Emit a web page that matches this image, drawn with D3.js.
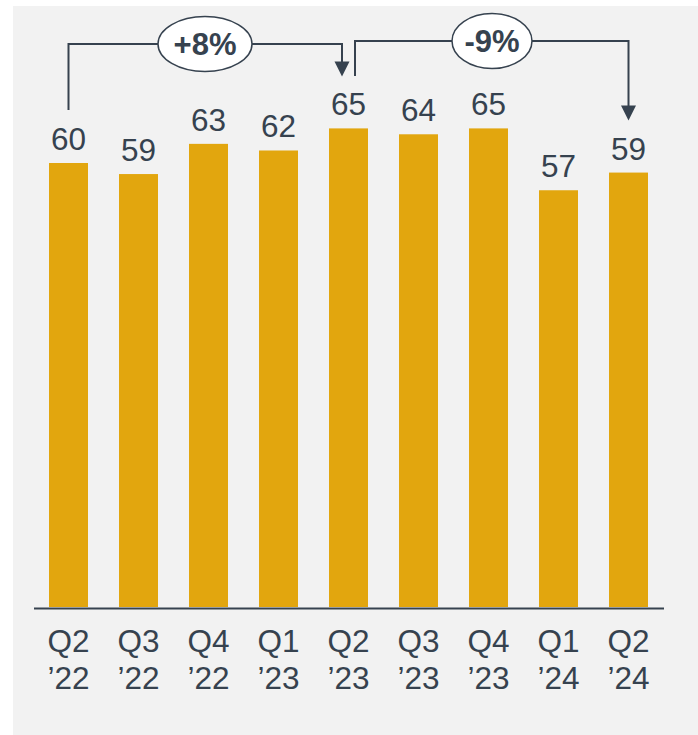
<!DOCTYPE html>
<html>
<head>
<meta charset="utf-8">
<script src="https://cdn.jsdelivr.net/npm/d3@7"></script>
<style>
  body { margin: 0; background: #fff; }
  svg { display: block; }
</style>
</head>
<body>
<div id="chart-area"></div>
<script>
// data
var quarters = ["Q2", "Q3", "Q4", "Q1", "Q2", "Q3", "Q4", "Q1", "Q2"];
var years = ["\u201922", "\u201922", "\u201922", "\u201923", "\u201923", "\u201923", "\u201923", "\u201924", "\u201924"];
var values = [60.3, 58.8, 62.9, 62.0, 65.0, 64.2, 65.0, 56.6, 59.0];
// growth brackets: from index, to index, label
var changes = [
  { from: 0, to: 4, label: "+8%" },
  { from: 4, to: 8, label: "-9%" }
];

var W = 698, H = 735;
var ink = "#36424f";
var barColor = "#e2a60e";
var font = "'Liberation Sans', Arial, sans-serif";

var svg = d3.select("#chart-area")
  .append("svg")
  .attr("width", W)
  .attr("height", H);

// panel background
svg.append("rect")
  .attr("x", 13)
  .attr("y", 6)
  .attr("width", W - 13)
  .attr("height", H - 6)
  .attr("fill", "#f2f2f2");

var idx = values.map(function(d, i) { return i; });

var x = d3.scaleBand()
  .domain(idx)
  .range([33.5, 663.5])
  .paddingInner(0.443)
  .paddingOuter(0.2215);

var baseline = 607;
var y = d3.scaleLinear()
  .domain([0, 65])
  .range([baseline, 128.4]);

// bars
svg.append("g")
  .selectAll("rect")
  .data(values)
  .enter()
  .append("rect")
  .attr("x", function(d, i) { return x(i); })
  .attr("y", function(d) { return y(d); })
  .attr("width", x.bandwidth())
  .attr("height", function(d) { return baseline - y(d); })
  .attr("fill", barColor);

// value labels
svg.append("g")
  .selectAll("text")
  .data(values)
  .enter()
  .append("text")
  .attr("x", function(d, i) { return x(i) + x.bandwidth() / 2; })
  .attr("y", function(d) { return y(d) - 13; })
  .attr("text-anchor", "middle")
  .attr("font-family", font)
  .attr("font-size", "31.5px")
  .attr("fill", ink)
  .text(function(d) { return Math.round(d); });

// x axis
var xAxis = svg.append("g")
  .attr("transform", "translate(0," + (baseline + 1) + ")")
  .call(d3.axisBottom(x).tickSize(0).tickSizeOuter(0).tickFormat(""));
xAxis.select(".domain")
  .attr("stroke", ink)
  .attr("stroke-width", 2);
xAxis.selectAll(".tick text").remove();

var xLabels = svg.append("g")
  .selectAll("text")
  .data(idx)
  .enter()
  .append("text")
  .attr("text-anchor", "middle")
  .attr("font-family", font)
  .attr("font-size", "31.5px")
  .attr("fill", ink);
xLabels.append("tspan")
  .attr("x", function(i) { return x(i) + x.bandwidth() / 2; })
  .attr("y", 652)
  .text(function(i) { return quarters[i]; });
xLabels.append("tspan")
  .attr("x", function(i) { return x(i) + x.bandwidth() / 2; })
  .attr("y", 689)
  .text(function(i) { return years[i]; });

// growth brackets
var cx = function(i) { return x(i) + x.bandwidth() / 2; };
var bracketY = [44, 41];

changes.forEach(function(c, k) {
  var yy = bracketY[k];
  var x0 = cx(c.from) + (k === 0 ? 0 : 6.5);
  var x1 = cx(c.to) - (k === 0 ? 6.5 : 0);
  var y0 = k === 0 ? 110 : 76;
  var tip = y(values[c.to]) - 52;
  var g = svg.append("g");

  g.append("path")
    .attr("d", "M" + x0 + "," + y0 + "V" + yy + "H" + x1 + "V" + (tip - 12))
    .attr("fill", "none")
    .attr("stroke", ink)
    .attr("stroke-width", 2);

  g.append("path")
    .attr("d", "M" + (x1 - 7.5) + "," + (tip - 15) + "L" + (x1 + 7.5) + "," + (tip - 15) + "L" + x1 + "," + tip + "Z")
    .attr("fill", ink);

  var mx = k === 0 ? 205 : 492;
  g.append("ellipse")
    .attr("cx", mx)
    .attr("cy", yy)
    .attr("rx", k === 0 ? 47 : 40)
    .attr("ry", 27.5)
    .attr("fill", "#fff")
    .attr("stroke", ink)
    .attr("stroke-width", 1.5);

  g.append("text")
    .attr("x", mx)
    .attr("y", yy + 11)
    .attr("text-anchor", "middle")
    .attr("font-family", font)
    .attr("font-size", "31px")
    .attr("font-weight", "bold")
    .attr("fill", ink)
    .text(c.label);
});
</script>
</body>
</html>
